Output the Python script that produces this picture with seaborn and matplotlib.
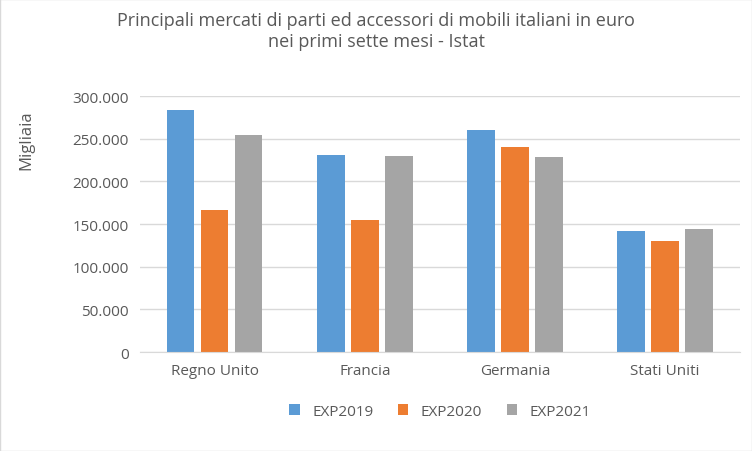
import matplotlib
matplotlib.use("Agg")
import matplotlib.pyplot as plt
import seaborn as sns
import pandas as pd
from matplotlib.ticker import FuncFormatter

categories = ["Regno Unito", "Francia", "Germania", "Stati Uniti"]
series = ["EXP2019", "EXP2020", "EXP2021"]
exp2019 = [284000, 231500, 260000, 142000]
exp2020 = [166000, 154500, 240000, 130000]
exp2021 = [254000, 229500, 228500, 144000]
colors = ["#5b9bd5", "#ed7d31", "#a5a5a5"]

rows = []
for s, vals in zip(series, [exp2019, exp2020, exp2021]):
    for c, v in zip(categories, vals):
        rows.append({"cat": c, "series": s, "val": v})
df = pd.DataFrame(rows)

plt.rcParams["font.family"] = "Open Sans"
fig = plt.figure(figsize=(7.52, 4.52), dpi=100)
ax = fig.add_axes([0.186, 0.219, 0.798, 0.566])
sns.barplot(data=df, x="cat", y="val", hue="series", palette=colors, ax=ax,
            width=0.68, gap=0.2, saturation=1)
ax.set_ylim(0, 300000)
ax.set_yticks(range(0, 300001, 50000))
ax.yaxis.set_major_formatter(FuncFormatter(lambda v, p: "0" if v == 0 else f"{int(v):,}".replace(",", ".")))
ax.grid(axis="y", color="#d9d9d9", linewidth=1)
ax.set_axisbelow(True)
for s in ["top", "right", "left"]:
    ax.spines[s].set_visible(False)
ax.spines["bottom"].set_color("#d9d9d9")
ax.tick_params(length=0, labelsize=11, colors="#595959", pad=8)
ax.set_xlabel("")
ax.set_ylabel("Migliaia", fontsize=12, color="#595959")
ax.yaxis.set_label_coords(-0.175, 0.83)
fig.text(0.5, 0.93, "Principali mercati di parti ed accessori di mobili italiani in euro\nnei primi sette mesi - Istat",
         ha="center", va="center", fontsize=13, color="#595959")
ax.legend(loc="upper center", bbox_to_anchor=(0.5, -0.15), ncol=3, frameon=False,
          fontsize=11, labelcolor="#595959", handlelength=0.7, handleheight=0.7, columnspacing=1.6)
fig.patches.append(plt.Rectangle((0, 0), 1, 1, transform=fig.transFigure, fill=False,
                                 edgecolor="#d9d9d9", linewidth=1))
fig.savefig("out.png", dpi=100)
